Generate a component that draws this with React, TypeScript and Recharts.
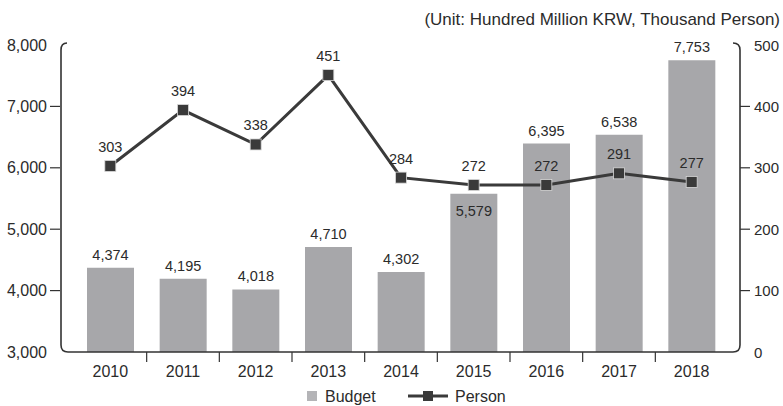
import React from 'react';
import { ComposedChart, Bar, Line, XAxis, YAxis, Legend, LabelList } from 'recharts';

const years = ['2010', '2011', '2012', '2013', '2014', '2015', '2016', '2017', '2018'];
const budget = [4374, 4195, 4018, 4710, 4302, 5579, 6395, 6538, 7753];
const person = [303, 394, 338, 451, 284, 272, 272, 291, 277];
const budgetTicks = [3000, 4000, 5000, 6000, 7000, 8000];
const personTicks = [0, 100, 200, 300, 400, 500];
const unitText = '(Unit: Hundred Million KRW, Thousand Person)';

const data = years.map((year, i) => ({ year, budget: budget[i], person: person[i] }));

const W = 783;
const H = 406;
const L = 60;
const R = 740;
const T = 45;
const B = 352;
const FONT = "'Liberation Sans', Arial, sans-serif";
const TXT = '#2b2b2b';
const AX = '#333333';
const BAR = '#a7a7aa';
const LINE = '#3a3a3a';

const fmt = (v: number) => v.toLocaleString('en-US');

const LeftTick = (props: any) => {
  const { y, payload, index } = props;
  const inner = payload.value !== budgetTicks[0] && payload.value !== budgetTicks[budgetTicks.length - 1];
  return (
    <g key={`lt-${index}`}>
      {inner && <line x1={L - 10} x2={L} y1={y} y2={y} stroke={AX} strokeWidth={1.2} />}
      <text x={L - 13} y={y} textAnchor="end" dominantBaseline="central" fontSize={16} fill={TXT} fontFamily={FONT}>
        {fmt(payload.value)}
      </text>
    </g>
  );
};

const RightTick = (props: any) => {
  const { y, payload, index } = props;
  const inner = payload.value !== personTicks[0] && payload.value !== personTicks[personTicks.length - 1];
  return (
    <g key={`rt-${index}`}>
      {inner && <line x1={R} x2={R + 10} y1={y} y2={y} stroke={AX} strokeWidth={1.2} />}
      <text x={R + 14} y={y} textAnchor="start" dominantBaseline="central" fontSize={15} fill={TXT} fontFamily={FONT}>
        {payload.value}
      </text>
    </g>
  );
};

const XTick = (props: any) => {
  const { x, payload, index } = props;
  const half = payload && typeof payload.offset === 'number' && payload.offset > 0 ? payload.offset : 36.3;
  const last = payload.value === years[years.length - 1];
  return (
    <g key={`xt-${index}`}>
      {!last && <line x1={x + half} x2={x + half} y1={B} y2={B + 10} stroke={AX} strokeWidth={1.2} />}
      <text x={x} y={B + 19} textAnchor="middle" dominantBaseline="central" fontSize={16} fill={TXT} fontFamily={FONT}>
        {payload.value}
      </text>
    </g>
  );
};

const BarLabel = (props: any) => {
  const { x, y, width, value } = props;
  const idx = typeof props.index === 'number' ? props.index : budget.indexOf(value);
  const inside = idx === 5;
  const cx = x + width / 2;
  const cy = inside ? y + 17 : y - 13;
  return (
    <text x={cx} y={cy} textAnchor="middle" dominantBaseline="central" fontSize={14.5} fill={TXT} fontFamily={FONT}>
      {fmt(value)}
    </text>
  );
};

const LineLabel = (props: any) => {
  const { x, y, value } = props;
  return (
    <text x={x} y={y - 19} textAnchor="middle" dominantBaseline="central" fontSize={14.5} fill={TXT} fontFamily={FONT}>
      {value}
    </text>
  );
};

const SquareDot = (props: any) => {
  const { cx, cy, index } = props;
  if (cx == null || cy == null) return <g key={`d-${index}`} />;
  return (
    <rect key={`d-${index}`} x={cx - 5.5} y={cy - 5.5} width={11} height={11} fill={LINE} stroke="#d9d9d9" strokeWidth={0.8} />
  );
};

const LegendContent = () => (
  <div style={{ width: W, height: 24 }}>
    <svg width={W} height={24} style={{ display: 'block' }}>
      <rect x={307} y={9} width={10} height={10} fill="#b4b4b7" />
      <text x={325} y={14} dominantBaseline="central" fontSize={16} fill={TXT} fontFamily={FONT}>Budget</text>
      <line x1={408} x2={448} y1={14} y2={14} stroke={LINE} strokeWidth={3} />
      <rect x={423} y={9} width={10} height={10} fill={LINE} />
      <text x={455} y={14} dominantBaseline="central" fontSize={16} fill={TXT} fontFamily={FONT}>Person</text>
    </svg>
  </div>
);

export default function App() {
  const r = 7;
  const frame = `M ${L + r} ${T - 2} Q ${L + 1} ${T - 2} ${L + 1} ${T + 5} L ${L + 1} ${B - r} Q ${L + 1} ${B} ${L + 1 + r} ${B} L ${R - r} ${B} Q ${R} ${B} ${R} ${B - r} L ${R} ${T + 5} Q ${R} ${T - 2} ${R - r} ${T - 2}`;
  return (
    <div style={{ position: 'absolute', left: 0, top: 0, width: W, height: H, background: '#fff' }}>
      <ComposedChart
        width={W}
        height={H}
        data={data}
        margin={{ top: T, right: 0, bottom: 0, left: 0 }}
        barSize={47}
      >
        <XAxis
          dataKey="year"
          xAxisId="x"
          axisLine={false}
          tickLine={false}
          height={30}
          padding={{ left: 14, right: 12 }}
          tick={<XTick />}
          interval={0}
        />
        <YAxis
          yAxisId="left"
          orientation="left"
          width={L}
          domain={[3000, 8000]}
          ticks={budgetTicks}
          axisLine={false}
          tickLine={false}
          tick={<LeftTick />}
          interval={0}
        />
        <YAxis
          yAxisId="right"
          orientation="right"
          width={W - R}
          domain={[0, 500]}
          ticks={personTicks}
          axisLine={false}
          tickLine={false}
          tick={<RightTick />}
          interval={0}
        />
        <Legend verticalAlign="bottom" height={24} content={<LegendContent />} />
        <Bar dataKey="budget" name="Budget" xAxisId="x" yAxisId="left" fill={BAR} isAnimationActive={false}>
          <LabelList dataKey="budget" content={<BarLabel />} />
        </Bar>
        <Line
          dataKey="person"
          name="Person"
          xAxisId="x"
          yAxisId="right"
          type="linear"
          stroke={LINE}
          strokeWidth={3}
          dot={<SquareDot />}
          activeDot={false}
          isAnimationActive={false}
        >
          <LabelList dataKey="person" content={<LineLabel />} />
        </Line>
      </ComposedChart>
      <svg width={W} height={H} style={{ position: 'absolute', left: 0, top: 0, pointerEvents: 'none' }}>
        <path d={frame} fill="none" stroke={AX} strokeWidth={1.6} />
        <text x={780} y={19} textAnchor="end" dominantBaseline="central" fontSize={17} fill={TXT} fontFamily={FONT}>
          {unitText}
        </text>
      </svg>
    </div>
  );
}
